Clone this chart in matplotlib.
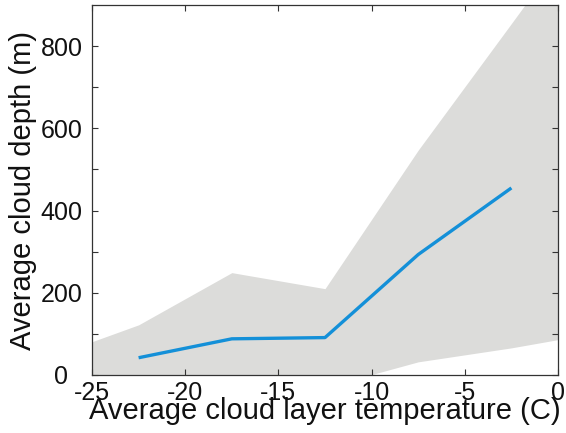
import matplotlib
matplotlib.use("Agg")
import matplotlib.pyplot as plt

plt.rcParams['font.family'] = ['Liberation Sans', 'DejaVu Sans']

# Mean cloud depth per temperature bin
temp_bins = [-22.5, -17.5, -12.5, -7.5, -2.5]
mean_depth = [42, 88, 91, 293, 455]

# Spread envelope (upper / lower bounds)
band_temp = [-25, -22.5, -17.5, -12.5, -7.5, -2.5, 0]
band_upper = [81, 122, 249, 210, 547, 855, 1010]
band_lower = [-10, -20, -30, -30, 32, 66, 86]

x_ticks = [-25, -20, -15, -10, -5, 0]
x_tick_labels = ['-25', '-20', '-15', '-10', '-5', '0']
y_ticks = [0, 100, 200, 300, 400, 500, 600, 700, 800]
y_tick_labels = ['0', '', '200', '', '400', '', '600', '', '800']

fig = plt.figure(figsize=(5.66, 4.33), dpi=100)
ax_w, ax_h = 466, 370
ax = fig.add_axes([92 / 566, 58 / 433, ax_w / 566, ax_h / 433])

ax.fill_between(band_temp, band_lower, band_upper, color='#dcdcda', linewidth=0)
ax.plot(temp_bins, mean_depth, color='#1490d8', linewidth=2.4, solid_capstyle='butt')

ax.set_xlim(-25, 0)
ax.set_ylim(0, 900)
ax.set_xticks(x_ticks)
ax.set_xticklabels(x_tick_labels)
ax.set_yticks(y_ticks)
ax.set_yticklabels(y_tick_labels)

ax.tick_params(direction='in', top=True, right=True, length=4, width=0.8,
               color='#333333', labelsize=18, labelcolor='#111111')
ax.tick_params(axis='x', pad=4)
ax.tick_params(axis='y', pad=22)
for lbl in ax.get_yticklabels():
    lbl.set_horizontalalignment('center')
for s in ax.spines.values():
    s.set_color('#333333')
    s.set_linewidth(0.9)

ax.set_xlabel('Average cloud layer temperature (C)', fontsize=21, color='#111111')
ax.set_ylabel('Average cloud depth (m)', fontsize=21, color='#111111')
ax.xaxis.set_label_coords(0.5, -22 / ax_h)
ax.yaxis.set_label_coords(-55 / ax_w, 0.5)

fig.savefig('out.png', dpi=100)
